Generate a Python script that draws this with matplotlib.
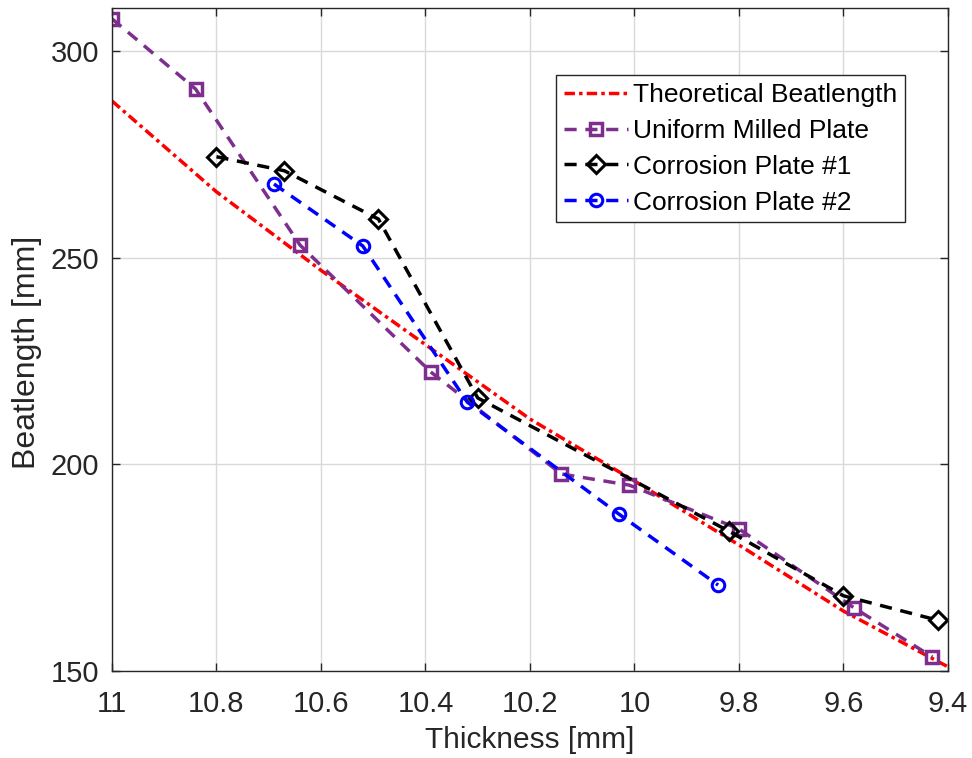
import numpy as np
import matplotlib
matplotlib.use("Agg")
import matplotlib.pyplot as plt
from matplotlib.ticker import FuncFormatter

# thickness [mm] vs beatlength [mm]
theory_t = [11.0, 10.8, 10.6, 10.4, 10.2, 10.0, 9.8, 9.6, 9.4]
theory_b = [288.0, 266.0, 247.0, 229.0, 211.0, 196.0, 180.5, 164.5, 151.0]

milled_t = [11.0, 10.84, 10.64, 10.39, 10.14, 10.01, 9.80, 9.58, 9.43]
milled_b = [307.9, 290.9, 253.1, 222.4, 197.7, 195.0, 184.4, 165.3, 153.4]

corr1_t = [10.80, 10.67, 10.49, 10.30, 9.82, 9.60, 9.42]
corr1_b = [274.5, 271.1, 259.4, 216.1, 183.9, 168.2, 162.3]

corr2_t = [10.69, 10.52, 10.32, 10.03, 9.84]
corr2_b = [267.9, 252.9, 215.1, 188.0, 170.8]

xticks = [11, 10.8, 10.6, 10.4, 10.2, 10, 9.8, 9.6, 9.4]
yticks = [150, 200, 250, 300]

plt.rcParams['font.family'] = ['Liberation Sans', 'DejaVu Sans']

fig = plt.figure(figsize=(9.72, 7.58), dpi=100)
ax = fig.add_axes([0.1152, 0.1148, 0.8601, 0.8746])

purple = "#7E2F8E"
ax.plot(theory_t, theory_b, color="red", linestyle=(0, (3, 1.2, 1, 1.2)), linewidth=2.5,
        label="Theoretical Beatlength")
ax.plot(milled_t, milled_b, color=purple, linestyle=(0, (3.5, 2.5)), linewidth=2.5,
        marker="s", markersize=8.5, mfc="none", mec=purple, mew=2.5, label="Uniform Milled Plate")
ax.plot(corr1_t, corr1_b, color="black", linestyle=(0, (3.5, 2.5)), linewidth=2.5,
        marker="D", markersize=9, mfc="none", mec="black", mew=2.2, label="Corrosion Plate #1")
ax.plot(corr2_t, corr2_b, color="blue", linestyle=(0, (3.5, 2.5)), linewidth=2.5,
        marker="o", markersize=9, mfc="none", mec="blue", mew=2.2, label="Corrosion Plate #2")

ax.set_xlim(11, 9.4)
ax.set_ylim(150, 310.5)
ax.set_xticks(xticks)
ax.set_yticks(yticks)
ax.xaxis.set_major_formatter(FuncFormatter(lambda v, p: f"{v:g}"))
ax.tick_params(axis="both", direction="in", top=True, right=True, labelsize=21,
               labelcolor="#262626", color="#262626", length=6, width=1)
ax.tick_params(axis="x", pad=14)
ax.tick_params(axis="y", pad=9)
ax.grid(True, color="#d9d9d9", linewidth=1)
ax.set_axisbelow(True)
for s in ax.spines.values():
    s.set_color("#262626")
    s.set_linewidth(1)

ax.set_xlabel("Thickness [mm]", fontsize=21.5, color="#262626")
ax.set_ylabel("Beatlength [mm]", fontsize=23, color="#262626")
ax.xaxis.set_label_coords(0.5, -0.083)
ax.yaxis.set_label_coords(-0.084, 0.481)

leg = ax.legend(loc="upper right", bbox_to_anchor=(0.9486, 0.899), fontsize=19,
                fancybox=False, framealpha=1, edgecolor="#262626",
                handlelength=2.4, handletextpad=0.2, borderpad=0.3, labelspacing=0.45,
                borderaxespad=0)
leg.get_frame().set_linewidth(1)

fig.savefig("out.png", dpi=100)
